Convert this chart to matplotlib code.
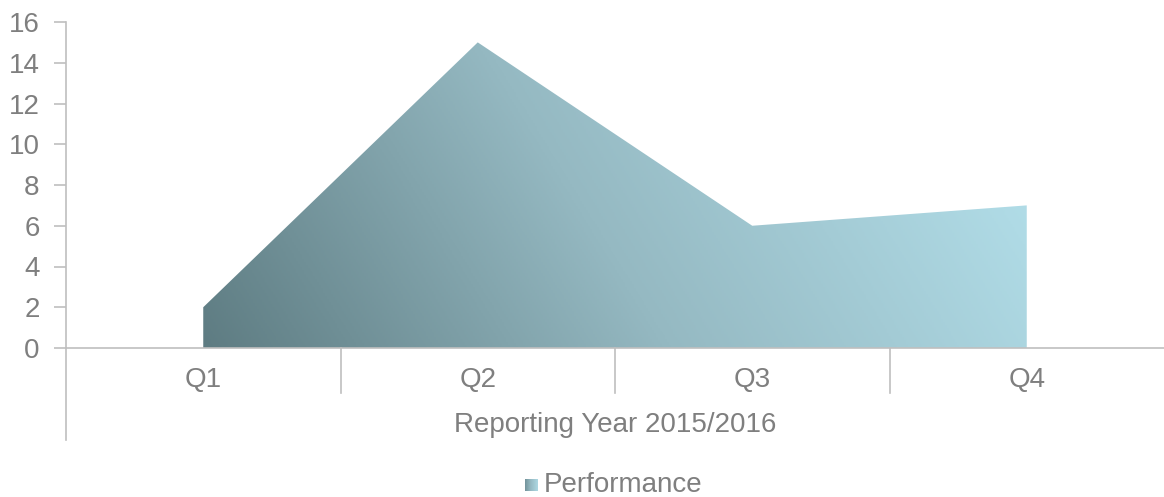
import numpy as np
import matplotlib
matplotlib.use('Agg')
import matplotlib.pyplot as plt
from matplotlib.colors import LinearSegmentedColormap
from matplotlib.patches import Polygon

plt.rcParams['font.family'] = ['Liberation Sans', 'DejaVu Sans']

# Datos
quarters = ['Q1', 'Q2', 'Q3', 'Q4']
performance = [2, 15, 6, 7]
group_label = 'Reporting Year 2015/2016'
series_name = 'Performance'

grey_text = '#7f7f7f'
grey_line = '#bfbfbf'
fs = 20

fig = plt.figure(figsize=(11.64, 4.97), dpi=100)
ax = fig.add_axes([66 / 1164, 149 / 497, 1098 / 1164, 326 / 497])

x = np.arange(len(quarters)) + 0.5
ax.set_xlim(0, len(quarters))
ax.set_ylim(0, 16)

# Área con degradado
cmap = LinearSegmentedColormap.from_list('perf', ['#5e7c82', '#95b9c2', '#b2dee9'])
verts = [(x[0], 0)] + list(zip(x, performance)) + [(x[-1], 0)]
poly = Polygon(verts, closed=True, facecolor='none', edgecolor='none')
ax.add_patch(poly)
xx, yy = np.meshgrid(np.linspace(0, 1, 400), np.linspace(0, 1, 200))
t = np.clip(0.88 * xx + 0.2 * yy, 0, 1)
img = ax.imshow(t, cmap=cmap, origin='lower', aspect='auto', vmin=0, vmax=1,
                extent=(x[0], x[-1], 0, max(performance)), zorder=1)
img.set_clip_path(poly)

# Ejes
ax.set_yticks(np.arange(0, 17, 2))
ax.tick_params(axis='y', length=9, width=1.2, color=grey_line, labelcolor=grey_text,
               labelsize=fs, pad=10)
ax.set_xticks([])
for s in ['top', 'right']:
    ax.spines[s].set_visible(False)
for s in ['left', 'bottom']:
    ax.spines[s].set_color(grey_line)
    ax.spines[s].set_linewidth(1.2)
ax.spines['left'].set_bounds(0, 16)

trans = ax.get_xaxis_transform()
# prolongación del eje y y separadores de categorías
ax.plot([0, 0], [0, -0.282], transform=trans, color=grey_line, lw=1.2, clip_on=False)
for b in range(1, len(quarters)):
    ax.plot([b, b], [0, -0.138], transform=trans, color=grey_line, lw=1.2, clip_on=False)

for xi, q in zip(x, quarters):
    ax.text(xi, -0.097, q, transform=trans, ha='center', va='center',
            fontsize=fs, color=grey_text)
ax.text(len(quarters) / 2, -0.235, group_label, transform=trans, ha='center',
        va='center', fontsize=fs, color=grey_text)

# Leyenda
ly = 1 - 485 / 497
sw = 13 / 1164
sh = 13 / 497
leg_ax = fig.add_axes([525 / 1164, ly - sh / 2, sw, sh])
leg_ax.imshow(np.linspace(0.2, 0.9, 20)[None, :] * np.ones((20, 1)), cmap=cmap,
              aspect='auto', extent=(0, 1, 0, 1), vmin=0, vmax=1)
leg_ax.axis('off')
fig.text(544 / 1164, ly, series_name, ha='left', va='center', fontsize=fs,
         color=grey_text)

fig.savefig('out.png', dpi=100)
